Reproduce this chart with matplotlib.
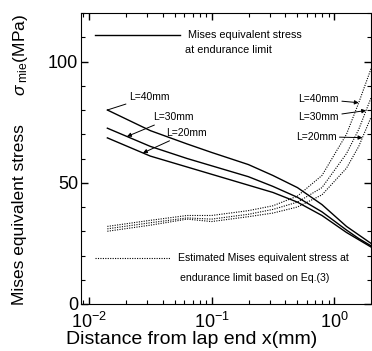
import numpy as np
import matplotlib
matplotlib.use('Agg')
import matplotlib.pyplot as plt

plt.rcParams['font.family'] = ['Liberation Sans', 'DejaVu Sans']
plt.rcParams['mathtext.fontset'] = 'custom'
plt.rcParams['mathtext.rm'] = 'Liberation Sans'
plt.rcParams['mathtext.it'] = 'Liberation Sans:italic'

# distance from lap end (log10 of x in mm)
log_x = [-1.85, -1.5, -1.2, -1.0, -0.7, -0.5, -0.3, -0.1, 0.1, 0.2, 0.3]

# Mises equivalent stress at endurance limit (MPa)
mises_40 = [80, 71.5, 66, 62.5, 57.5, 53, 48, 41, 32, 28.5, 25]
mises_30 = [72.5, 65, 60, 57, 52.5, 48.5, 44, 38, 30.5, 27, 24]
mises_20 = [68.5, 61, 56.5, 53.5, 49, 46, 42, 36.5, 29.5, 26.5, 23.5]

# estimated Mises equivalent stress based on Eq.(3) (MPa)
est_40 = [32, 34.5, 36.5, 36.5, 38.5, 40.5, 44.5, 53, 70, 83, 97]
est_30 = [31, 33.5, 35.5, 35, 37, 39, 42, 48, 62, 72, 85]
est_20 = [30, 32.5, 35, 34, 36, 37.5, 40, 45, 56, 65, 77]

x = 10 ** np.array(log_x)

fig = plt.figure(figsize=(3.72, 3.51), dpi=100)
ax = fig.add_axes([81 / 372, 47 / 351, 290 / 372, 291 / 351])

for y in (mises_40, mises_30, mises_20):
    ax.plot(x, y, color='black', lw=1.0)
for y in (est_40, est_30, est_20):
    ax.plot(x, y, color='black', lw=0.8, linestyle=(0, (1, 1.2)))

ax.set_xscale('log')
ax.set_xlim(10 ** -2.065, 10 ** 0.3)
ax.set_ylim(0, 120)
ax.set_yticks([0, 50, 100])
ax.set_yticks(np.arange(0, 121, 10), minor=True)
ax.tick_params(which='both', direction='in', top=True, right=True)
ax.tick_params(which='major', length=5, width=1, labelsize=13)
ax.tick_params(which='minor', length=3, width=0.8)
ax.tick_params(axis='x', which='major', pad=6)
ax.tick_params(axis='y', which='major', pad=2)

fig.text(20 / 372, 1 - 215 / 351, 'Mises equivalent stress', rotation=90,
         ha='center', va='center', fontsize=12.5)
fig.text(20 / 372, 1 - 55 / 351, r'$\sigma_{\rm\ mie}$(MPa)', rotation=90,
         ha='center', va='center', fontsize=12.5)
fig.text(192 / 372, 1 - 340 / 351, 'Distance from lap end x(mm)',
         ha='center', va='center', fontsize=14)

# legend drawn as in the original
ax.plot([0.048, 0.341], [0.924, 0.924], transform=ax.transAxes, color='black', lw=1.0)
ax.text(0.369, 0.924, 'Mises equivalent stress', transform=ax.transAxes,
        fontsize=7.8, va='center', ha='left')
ax.text(0.359, 0.873, 'at endurance limit', transform=ax.transAxes,
        fontsize=7.8, va='center', ha='left')
ax.plot([0.048, 0.307], [0.158, 0.158], transform=ax.transAxes, color='black',
        lw=0.8, linestyle=(0, (1, 1.2)))
ax.text(0.334, 0.158, 'Estimated Mises equivalent stress at', transform=ax.transAxes,
        fontsize=7.6, va='center', ha='left')
ax.text(0.341, 0.089, 'endurance limit based on Eq.(3)', transform=ax.transAxes,
        fontsize=7.6, va='center', ha='left')

arrow = dict(arrowstyle='-|>', color='black', lw=0.7, mutation_scale=6,
             shrinkA=0, shrinkB=0)
line = dict(arrowstyle='-', color='black', lw=0.7, shrinkA=0, shrinkB=0)

def on_curve(lx, ys):
    return 10 ** lx, np.interp(lx, log_x, ys)

# left labels (solid curves)
ax.annotate('L=40mm', xy=on_curve(-1.85, mises_40), xytext=(10 ** -1.676, 85.5),
            fontsize=7.5, va='center', ha='left', arrowprops=line)
ax.annotate('L=30mm', xy=on_curve(-1.69, mises_30), xytext=(10 ** -1.48, 77),
            fontsize=7.5, va='center', ha='left', arrowprops=arrow)
ax.annotate('L=20mm', xy=on_curve(-1.56, mises_20), xytext=(10 ** -1.37, 70.5),
            fontsize=7.5, va='center', ha='left', arrowprops=arrow)

# right labels (dotted curves)
ax.annotate('L=40mm', xy=on_curve(0.2, est_40), xytext=(10 ** 0.04, 84.5),
            fontsize=7.5, va='center', ha='right', arrowprops=arrow)
ax.annotate('L=30mm', xy=on_curve(0.26, est_30), xytext=(10 ** 0.04, 77),
            fontsize=7.5, va='center', ha='right', arrowprops=arrow)
ax.annotate('L=20mm', xy=on_curve(0.23, est_20), xytext=(10 ** 0.02, 69),
            fontsize=7.5, va='center', ha='right', arrowprops=arrow)

fig.savefig('out.png', dpi=100)
